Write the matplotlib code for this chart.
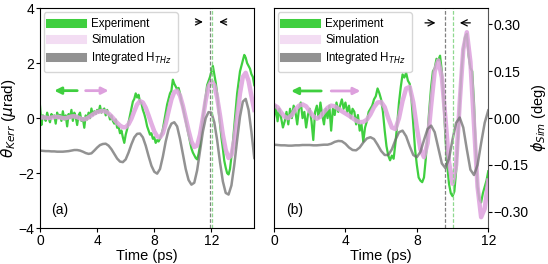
import numpy as np
import matplotlib
matplotlib.use("Agg")
import matplotlib.pyplot as plt

plt.rcParams["font.family"] = ["Liberation Sans", "DejaVu Sans"]
plt.rcParams["mathtext.fontset"] = "dejavusans"

GREEN = "#3fcf3f"
PINK = "#dda0dd"
GRAY = "#6e6e6e"

# ---- panel (a): Kerr rotation, time in ps ----
t_exp_a = np.round(np.arange(0, 15.01, 0.1), 2)
exp_a = [0.45, -0.25, 0.1, 0.05, -0.1, 0.2, 0.0, -0.15, 0.15, 0.05,
         0.1, -0.2, 0.2, 0.0, 0.12, -0.1, 0.25, -0.05, 0.1, -0.3,
         0.15, 0.0, 0.3, -0.1, 0.2, 0.05, -0.25, 0.1, 0.2, -0.1,
         0.0, -0.35, 0.1, -0.05, 0.2, 0.0, 0.35, 0.1, 0.25, 0.15,
         0.3, 0.2, 0.45, 0.2, 0.3, 0.35, 0.1, 0.3, 0.15, -0.05,
         0.1, -0.1, -0.2, -0.05, -0.35, -0.3, -0.55, -0.45, -0.7, -0.9,
         -0.6, -0.4, -0.15, 0.1, 0.35, 0.6, 0.7, 0.9, 0.75, 0.85,
         0.6, 0.55, 0.3, 0.15, -0.05, -0.3, -0.45, -0.6, -0.55, -0.75,
         -0.7, -0.9, -0.8, -0.85, -0.75, -0.6, -0.4, -0.1, 0.2, 0.5,
         0.7, 0.9, 1.0, 1.4, 1.25, 1.15, 1.05, 1.1, 0.9, 0.6,
         0.4, 0.15, -0.1, -0.35, -0.6, -0.85, -1.1, -1.25, -1.35, -1.45,
         -1.5, -1.3, -1.0, -0.5, 0.0, 0.4, 0.8, 1.2, 1.35, 1.5,
         1.7, 1.9, 1.6, 1.3, 0.9, 0.3, -0.2, -0.7, -1.1, -1.55,
         -1.8, -2.0, -2.05, -1.85, -1.4, -0.9, -0.3, 0.3, 0.9, 1.3,
         1.7, 1.9, 2.1, 2.3, 2.2, 2.0, 1.9, 1.8, 1.6, 1.5,
         1.2]

t_sim_a = np.round(np.arange(0, 15.01, 0.2), 2)
sim_a = [0.02, 0.03, 0.02, 0.0, 0.02, 0.04, 0.05, 0.03, 0.0, 0.0,
         0.03, 0.06, 0.07, 0.04, -0.01, -0.05, -0.03, 0.03, 0.1, 0.17,
         0.22, 0.25, 0.26, 0.24, 0.17, 0.07, -0.05, -0.17, -0.27, -0.33,
         -0.33, -0.22, -0.02, 0.25, 0.5, 0.62, 0.57, 0.38, 0.1, -0.2,
         -0.48, -0.66, -0.7, -0.55, -0.2, 0.25, 0.68, 0.95, 1.0, 0.82,
         0.45, 0.0, -0.45, -0.85, -1.05, -1.0, -0.6, 0.0, 0.65, 1.15,
         1.35, 1.2, 0.75, 0.1, -0.6, -1.15, -1.45, -1.35, -0.8, 0.05,
         0.9, 1.5, 1.65, 1.35, 0.8, 0.3]
int_a = [-1.18, -1.19, -1.2, -1.2, -1.21, -1.21, -1.22, -1.22, -1.22, -1.21,
         -1.2, -1.18, -1.16, -1.16, -1.18, -1.22, -1.27, -1.3, -1.28, -1.18,
         -1.07, -0.98, -0.94, -0.93, -1.0, -1.13, -1.3, -1.47, -1.58, -1.6,
         -1.5, -1.25, -0.95, -0.7, -0.57, -0.56, -0.7, -1.0, -1.38, -1.73,
         -1.95, -2.02, -1.85, -1.4, -0.85, -0.42, -0.2, -0.15, -0.3, -0.75,
         -1.3, -1.85, -2.25, -2.42, -2.35, -1.9, -1.2, -0.5, 0.0, 0.22,
         0.2, -0.15, -0.8, -1.6, -2.3, -2.72, -2.78, -2.45, -1.7, -0.8,
         0.05, 0.6, 0.7, 0.3, -0.5, -1.45]

# ---- panel (b): simulated phase, deg ----
t_exp_b = np.round(np.arange(0, 12.01, 0.1), 2)
exp_b = [0.0, 0.04, -0.01, 0.03, 0.0, -0.03, -0.01, 0.02, -0.02, 0.03,
         0.0, 0.04, 0.02, -0.02, 0.03, 0.05, 0.0, 0.02, -0.03, 0.01,
         0.03, -0.01, -0.07, 0.02, 0.04, 0.0, 0.05, 0.01, -0.02, 0.03,
         0.0, 0.04, -0.04, 0.03, 0.01, 0.05, 0.02, 0.04, 0.06, 0.03,
         0.05, 0.02, 0.04, 0.0, 0.03, 0.02, -0.02, 0.01, -0.04, -0.02,
         -0.075, -0.03, -0.01, 0.02, 0.03, 0.04, 0.06, 0.07, 0.095, 0.08,
         0.06, 0.02, -0.04, -0.09, -0.12, -0.135, -0.12, -0.13, -0.08, -0.02,
         0.05, 0.1, 0.14, 0.13, 0.145, 0.12, 0.11, 0.06, -0.02, -0.1,
         -0.15, -0.19, -0.2, -0.205, -0.19, -0.13, -0.05, 0.03, 0.1, 0.15,
         0.16, 0.19, 0.185, 0.2, 0.15, 0.05, -0.06, -0.15, -0.21, -0.24,
         -0.25, -0.235, -0.17, -0.07, 0.05, 0.15, 0.22, 0.26, 0.27, 0.2,
         0.16, 0.15, 0.05, -0.1, -0.22, -0.26, -0.27, -0.24, -0.22, -0.2,
         -0.17]

t_sim_b = np.round(np.arange(0, 12.01, 0.2), 2)
sim_b = [0.042, 0.035, 0.018, 0.004, 0.0, 0.01, 0.028, 0.04, 0.044, 0.038,
         0.022, 0.006, -0.002, 0.005, 0.02, 0.033, 0.04, 0.038, 0.03, 0.022,
         0.015, 0.008, 0.0, -0.008, -0.013, -0.012, -0.005, 0.012, 0.035, 0.05,
         0.052, 0.035, 0.0, -0.03, -0.035, 0.0, 0.055, 0.095, 0.1, 0.05,
         -0.03, -0.1, -0.125, -0.08, 0.04, 0.15, 0.185, 0.13, 0.0, -0.14,
         -0.21, -0.15, 0.05, 0.22, 0.275, 0.18, -0.02, -0.22, -0.317, -0.29,
         -0.2]
int_b = [-0.085, -0.086, -0.087, -0.087, -0.088, -0.088, -0.087, -0.087, -0.086, -0.086,
         -0.086, -0.087, -0.087, -0.086, -0.085, -0.085, -0.082, -0.076, -0.073, -0.074,
         -0.082, -0.094, -0.102, -0.103, -0.094, -0.078, -0.065, -0.061, -0.067, -0.085,
         -0.105, -0.118, -0.118, -0.1, -0.07, -0.045, -0.04, -0.058, -0.09, -0.118,
         -0.125, -0.108, -0.07, -0.035, -0.024, -0.045, -0.095, -0.145, -0.16, -0.13,
         -0.068, -0.015, 0.002, -0.03, -0.1, -0.165, -0.182, -0.15, -0.08, -0.015,
         0.025]

fig = plt.figure(figsize=(5.48, 2.64), dpi=100)
ax1 = fig.add_axes([0.073, 0.136, 0.391, 0.833])
ax2 = fig.add_axes([0.5, 0.136, 0.391, 0.833])


def style_legend(ax):
    leg = ax.legend(loc="upper left", fontsize=8.3, handlelength=2.8, borderpad=0.5,
                    labelspacing=0.35, borderaxespad=0.35)
    for h, a in zip(leg.get_lines(), (1.0, 0.35, 0.75)):
        h.set_linewidth(6.5)
        h.set_alpha(a)


# panel (a)
ax1.plot(t_exp_a, exp_a, color=GREEN, lw=1.6, label="Experiment")
ax1.plot(t_sim_a, sim_a, color=PINK, lw=3.2, alpha=0.85, label="Simulation")
ax1.plot(t_sim_a, int_a, color=GRAY, lw=1.8, alpha=0.75, label=r"Integrated H$_{THz}$")
ax1.axvline(11.93, color="gray", ls=(0, (3, 1.5)), lw=0.9)
ax1.axvline(12.05, color="#8fd88f", ls=(0, (3, 1.5)), lw=0.9)
ax1.annotate("", xy=(11.6, 3.5), xytext=(10.7, 3.5),
             arrowprops=dict(arrowstyle="->", color="black", lw=0.9, mutation_scale=11))
ax1.annotate("", xy=(12.35, 3.5), xytext=(13.25, 3.5),
             arrowprops=dict(arrowstyle="->", color="black", lw=0.9, mutation_scale=11))
ax1.annotate("", xy=(0.8, 1.0), xytext=(2.8, 1.0),
             arrowprops=dict(arrowstyle="-|>", color=GREEN, lw=2, mutation_scale=10))
ax1.annotate("", xy=(5.0, 1.0), xytext=(3.0, 1.0),
             arrowprops=dict(arrowstyle="-|>", color=PINK, lw=2, mutation_scale=10))
ax1.text(0.8, -3.35, "(a)", fontsize=10, va="center")
ax1.set_xlim(0, 15)
ax1.set_ylim(-4, 4)
ax1.set_xticks([0, 4, 8, 12])
ax1.set_yticks([-4, -2, 0, 2, 4])
ax1.set_xlabel("Time (ps)", fontsize=10.5, labelpad=1)
ax1.set_ylabel(r"$\theta_{Kerr}$ ($\mu$rad)", fontsize=11, labelpad=0)
ax1.tick_params(labelsize=10, length=3, pad=1)
style_legend(ax1)

# panel (b)
ax2.plot(t_exp_b, exp_b, color=GREEN, lw=1.6, label="Experiment")
ax2.plot(t_sim_b, sim_b, color=PINK, lw=3.2, alpha=0.85, label="Simulation")
ax2.plot(t_sim_b, int_b, color=GRAY, lw=1.8, alpha=0.75, label=r"Integrated H$_{THz}$")
ax2.axvline(9.55, color="gray", ls=(0, (3, 1.5)), lw=0.9)
ax2.axvline(10.05, color="#8fd88f", ls=(0, (3, 1.5)), lw=0.9)
ax2.annotate("", xy=(9.2, 0.305), xytext=(8.3, 0.305),
             arrowprops=dict(arrowstyle="->", color="black", lw=0.9, mutation_scale=11))
ax2.annotate("", xy=(10.25, 0.305), xytext=(11.15, 0.305),
             arrowprops=dict(arrowstyle="->", color="black", lw=0.9, mutation_scale=11))
ax2.annotate("", xy=(0.8, 0.087), xytext=(2.8, 0.087),
             arrowprops=dict(arrowstyle="-|>", color=GREEN, lw=2, mutation_scale=10))
ax2.annotate("", xy=(5.0, 0.087), xytext=(3.05, 0.087),
             arrowprops=dict(arrowstyle="-|>", color=PINK, lw=2, mutation_scale=10))
ax2.text(0.7, -0.295, "(b)", fontsize=10, va="center")
ax2.set_xlim(0, 12)
ax2.set_ylim(-0.352, 0.352)
ax2.set_xticks([0, 4, 8, 12])
ax2.set_yticks([-0.3, -0.15, 0, 0.15, 0.3])
ax2.set_yticklabels(["\u22120.30", "\u22120.15", "0.00", "0.15", "0.30"])
ax2.yaxis.tick_right()
ax2.yaxis.set_label_position("right")
ax2.spines["right"].set_color("#555555")
ax2.set_xlabel("Time (ps)", fontsize=10.5, labelpad=1)
ax2.set_ylabel(r"$\phi_{Sim}$ (deg)", fontsize=10.5, labelpad=0)
ax2.tick_params(labelsize=10, length=3, pad=1)
style_legend(ax2)

fig.savefig("out.png", dpi=100)
